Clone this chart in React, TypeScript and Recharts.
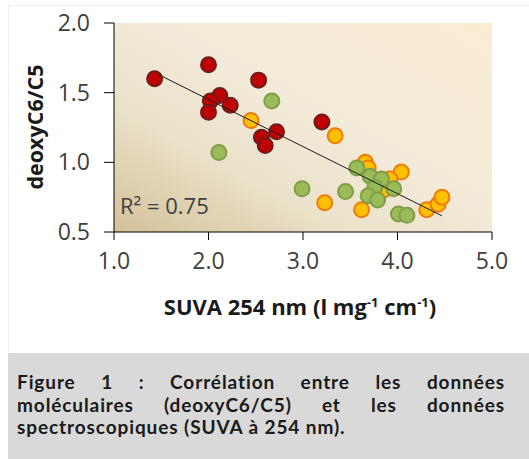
import React from 'react';
import { ScatterChart, Scatter, XAxis, YAxis, CartesianGrid } from 'recharts';

// SUVA (x) vs deoxyC6/C5 (y)
const redPoints: [number, number][] = [
  [1.43, 1.60], [2.00, 1.70], [2.53, 1.59], [2.12, 1.48], [2.02, 1.44], [2.00, 1.36],
  [2.23, 1.41], [2.72, 1.22], [2.56, 1.18], [2.60, 1.12], [3.20, 1.29],
];
const orangePoints: [number, number][] = [
  [2.45, 1.30], [3.34, 1.19], [3.23, 0.71], [3.62, 0.66], [3.66, 1.00], [3.69, 0.96],
  [4.04, 0.93], [3.92, 0.88], [3.85, 0.80], [4.31, 0.66], [4.43, 0.70], [4.47, 0.75],
];
const greenPoints: [number, number][] = [
  [2.67, 1.44], [2.11, 1.07], [2.99, 0.81], [3.45, 0.79], [3.57, 0.96], [3.71, 0.90],
  [3.83, 0.88], [3.76, 0.82], [3.96, 0.81], [3.69, 0.76], [3.79, 0.73], [4.01, 0.63], [4.10, 0.62],
];
const trendSlope = -0.338;
const trendIntercept = 2.127;
const trendRange = [1.47, 4.47];
const xTicks = [1, 2, 3, 4, 5];
const yTicks = [0.5, 1.0, 1.5, 2.0];
const r2Label = 'R² = 0.75';

const toData = (pts: [number, number][]) => pts.map(([x, y]) => ({ x, y }));
const trendData = trendRange.map((x) => ({ x, y: trendIntercept + trendSlope * x }));

const makeShape = (fill: string, stroke: string) => (props: any) => {
  const { cx, cy } = props;
  if (cx == null || cy == null) return <g />;
  return <circle cx={cx} cy={cy} r={7.5} fill={fill} stroke={stroke} strokeWidth={2} />;
};

const tickStyle = { fill: '#404040', fontSize: 23, fontFamily: 'Open Sans' };

export default function App() {
  return (
    <div style={{ position: 'fixed', left: 0, top: 0, width: 529, height: 459, background: '#fff', overflow: 'hidden' }}>
      <svg width={0} height={0} style={{ position: 'absolute' }}>
        <defs>
          <linearGradient id="bgGrad" x1="0" y1="1" x2="1" y2="0">
            <stop offset="0" stopColor="#d3c198" />
            <stop offset="0.3" stopColor="#eae1c9" />
            <stop offset="0.55" stopColor="#f3ebd9" />
            <stop offset="1" stopColor="#fbecd4" />
          </linearGradient>
        </defs>
      </svg>
      <div style={{ position: 'absolute', left: 8, top: 5, width: 521, height: 348, borderTop: '1px solid #f0f0f0', borderLeft: '1px solid #f0f0f0', boxSizing: 'border-box' }} />
      <div style={{ position: 'absolute', left: 0, top: 0 }}>
        <ScatterChart width={529} height={350} margin={{ top: 23, right: 37, bottom: 58, left: 54 }}>
          <CartesianGrid horizontal={false} vertical={false} fill="url(#bgGrad)" />
          <XAxis
            type="number" dataKey="x" domain={[1, 5]} ticks={xTicks} height={60}
            tickFormatter={(v: number) => v.toFixed(1)} tick={tickStyle}
            tickSize={8} tickMargin={13} axisLine={{ stroke: '#000' }} tickLine={{ stroke: '#000' }}
            allowDataOverflow
          />
          <XAxis xAxisId={1} orientation="top" type="number" dataKey="x" domain={[1, 5]} height={0}
            tick={false} tickLine={false} axisLine={{ stroke: '#000' }} />
          <YAxis
            type="number" dataKey="y" domain={[0.5, 2]} ticks={yTicks} width={60}
            tickFormatter={(v: number) => v.toFixed(1)} tick={tickStyle}
            tickSize={10} tickMargin={14} axisLine={{ stroke: '#000' }} tickLine={{ stroke: '#000' }}
            allowDataOverflow
          />
          <YAxis yAxisId={1} orientation="right" type="number" dataKey="y" domain={[0.5, 2]} width={0}
            tick={false} tickLine={false} axisLine={{ stroke: '#000' }} />
          <Scatter data={toData(redPoints)} shape={makeShape('#c00000', '#6e1d1d')} isAnimationActive={false} />
          <Scatter data={toData(orangePoints)} shape={makeShape('#ffc000', '#f07b0c')} isAnimationActive={false} />
          <Scatter data={toData(greenPoints)} shape={makeShape('#9bbb59', '#7f9e47')} isAnimationActive={false} />
          <Scatter data={trendData} line={{ stroke: '#1a1a1a', strokeWidth: 1 }} shape={() => <g />} isAnimationActive={false} />
        </ScatterChart>
      </div>
      <svg width={529} height={350} style={{ position: 'absolute', left: 0, top: 0, pointerEvents: 'none' }}>
        <text x={120} y={214} fill="#404040" fontSize={22} fontFamily="Open Sans">{r2Label}</text>
        <text transform="translate(43,127) rotate(-90)" textAnchor="middle" fill="#1a1a1a" fontSize={21.5} fontWeight="bold" fontFamily="Open Sans">deoxyC6/C5</text>
        <text x={300} y={315} textAnchor="middle" fill="#1a1a1a" fontSize={22} fontWeight="bold" fontFamily="Open Sans">
          SUVA 254 nm (l mg<tspan fontSize={13} dy={-8}>-1</tspan><tspan dy={8}> cm</tspan><tspan fontSize={13} dy={-8}>-1</tspan><tspan dy={8}>)</tspan>
        </text>
      </svg>
      <div style={{ position: 'absolute', left: 8, top: 353, width: 521, height: 106, background: '#d9d9d9', boxSizing: 'border-box', paddingTop: 18, paddingLeft: 9, fontFamily: 'Lato', fontWeight: 700, fontSize: 19, letterSpacing: '0.9px', lineHeight: '22.5px', color: '#1a1a1a' }}>
        <div style={{ width: 488, textAlign: 'justify', textAlignLast: 'justify', whiteSpace: 'nowrap' }}>Figure 1 : Corrélation entre les données</div>
        <div style={{ width: 488, textAlign: 'justify', textAlignLast: 'justify', whiteSpace: 'nowrap' }}>moléculaires (deoxyC6/C5) et les données</div>
        <div style={{ width: 488, textAlign: 'left', whiteSpace: 'nowrap' }}>spectroscopiques (SUVA à 254 nm).</div>
      </div>
    </div>
  );
}
